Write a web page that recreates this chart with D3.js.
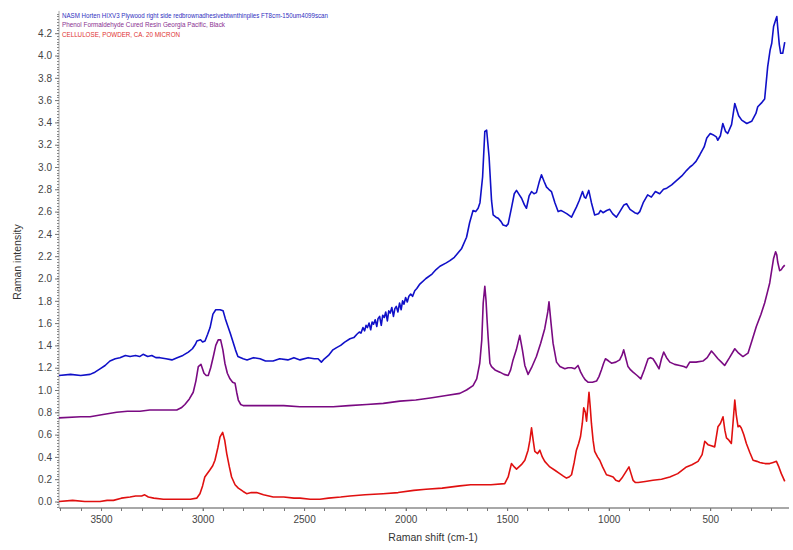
<!DOCTYPE html>
<html>
<head>
<meta charset="utf-8">
<script src="https://cdn.jsdelivr.net/npm/d3@7/dist/d3.min.js"></script>
<style>
  html, body { margin: 0; padding: 0; background: #fff; }
  svg { display: block; font-family: Arial, "Liberation Sans", sans-serif; }
</style>
</head>
<body>
<svg id="chart" width="793" height="550"></svg>
<script>
// ---- Data (Raman shift in cm-1, intensity) ----
const seriesNames = [
  "NASM Horten HIXV3 Plywood right side redbrownadhesivebtwnthinplies FT8cm-150um4099scan",
  "Phenol Formaldehyde Cured Resin Georgia Pacific, Black",
  "CELLULOSE, POWDER, CA. 20 MICRON"
];
const seriesColors = ["#1010c8", "#7a0a82", "#e01010"];
const legendColors = ["#3030c0", "#8a3090", "#e03030"];

const hortenSpectrum = [
  [3707,1.13],[3650,1.14],[3600,1.13],[3554,1.14],[3530,1.16],[3505,1.19],[3480,1.22],[3456,1.26],
  [3430,1.28],[3407,1.29],[3380,1.31],[3357,1.30],[3330,1.31],[3310,1.30],[3293,1.32],[3270,1.30],
  [3250,1.31],[3230,1.29],[3210,1.29],[3180,1.28],[3151,1.27],[3125,1.29],[3097,1.31],[3070,1.34],
  [3050,1.37],[3035,1.41],[3028,1.44],[3010,1.45],[3000,1.43],[2988,1.44],[2975,1.50],[2963,1.56],
  [2949,1.68],[2935,1.72],[2914,1.72],[2899,1.71],[2888,1.64],[2875,1.57],[2862,1.50],[2850,1.43],
  [2838,1.36],[2826,1.30],[2800,1.28],[2781,1.27],[2750,1.29],[2717,1.28],[2690,1.26],[2653,1.26],
  [2620,1.28],[2580,1.27],[2550,1.29],[2520,1.27],[2480,1.29],[2450,1.28],[2431,1.28],[2415,1.25],
  [2400,1.28],[2380,1.31],[2358,1.36],[2340,1.38],[2320,1.40],[2300,1.43],[2274,1.46],[2255,1.47],
  [2240,1.50],[2228,1.52],[2220,1.51],[2210,1.56],[2202,1.53],[2195,1.58],[2188,1.56],[2180,1.60],
  [2172,1.54],[2165,1.61],[2158,1.59],[2150,1.63],[2142,1.57],[2136,1.64],[2128,1.66],[2120,1.58],
  [2113,1.67],[2105,1.65],[2098,1.70],[2090,1.62],[2083,1.71],[2076,1.69],[2068,1.74],[2060,1.66],
  [2053,1.73],[2046,1.75],[2038,1.70],[2030,1.78],[2022,1.72],[2015,1.80],[2008,1.77],[2000,1.83],
  [1992,1.79],[1984,1.84],[1975,1.86],[1966,1.84],[1955,1.89],[1945,1.91],[1930,1.95],[1900,2.00],
  [1870,2.04],[1850,2.08],[1831,2.11],[1800,2.14],
  [1782,2.16],[1760,2.19],[1724,2.27],[1700,2.37],[1685,2.50],[1668,2.61],[1655,2.60],[1643,2.63],
  [1634,2.68],[1621,2.91],[1610,3.32],[1601,3.33],[1589,3.09],[1577,2.70],[1569,2.57],[1555,2.55],
  [1544,2.54],[1530,2.51],[1520,2.48],[1505,2.47],[1495,2.49],[1478,2.64],[1465,2.76],[1454,2.79],
  [1440,2.75],[1429,2.72],[1415,2.66],[1405,2.63],[1392,2.74],[1380,2.78],[1368,2.76],[1356,2.77],
  [1343,2.86],[1331,2.93],[1318,2.87],[1306,2.82],[1295,2.80],[1282,2.78],[1265,2.68],[1249,2.60],
  [1235,2.61],[1224,2.60],[1205,2.58],[1183,2.55],[1170,2.60],[1159,2.64],[1145,2.70],[1129,2.78],
  [1120,2.73],[1113,2.72],[1098,2.79],[1085,2.68],[1069,2.57],[1050,2.58],[1040,2.61],[1028,2.59],
  [1010,2.61],[995,2.62],[980,2.58],[962,2.55],[945,2.60],[925,2.66],[912,2.67],[895,2.62],
  [872,2.59],[858,2.58],[847,2.60],[830,2.68],[808,2.75],[790,2.73],[770,2.78],[749,2.76],
  [730,2.80],[714,2.81],[690,2.84],[665,2.88],[640,2.92],[616,2.97],[600,3.00],[586,3.02],
  [570,3.05],[551,3.11],[530,3.18],[517,3.26],[500,3.30],[487,3.29],[470,3.27],[463,3.24],
  [450,3.28],[438,3.39],[425,3.32],[414,3.30],[395,3.38],[379,3.57],[360,3.46],[345,3.42],
  [320,3.39],[296,3.41],[275,3.48],[266,3.54],[245,3.58],[232,3.61],[217,3.90],[205,4.05],
  [197,4.11],[188,4.26],[176,4.33],[172,4.35],[168,4.26],[160,4.10],[153,4.02],[143,4.02],[133,4.12]
];

const phenolSpectrum = [
  [3707,0.75],[3600,0.76],[3554,0.76],[3490,0.78],[3423,0.80],[3370,0.81],[3308,0.81],[3260,0.82],
  [3210,0.82],[3160,0.82],[3127,0.82],[3105,0.84],[3087,0.87],[3065,0.92],[3046,0.98],[3033,1.08],
  [3021,1.21],[3008,1.23],[2993,1.15],[2982,1.13],[2972,1.13],[2960,1.20],[2947,1.30],[2935,1.40],
  [2923,1.45],[2911,1.45],[2900,1.36],[2890,1.24],[2878,1.15],[2865,1.10],[2852,1.07],[2840,1.06],
  [2832,0.98],[2824,0.91],[2812,0.87],[2800,0.86],[2740,0.86],[2684,0.86],[2600,0.86],[2521,0.85],
  [2440,0.85],[2357,0.85],[2280,0.86],[2192,0.87],[2110,0.88],[2028,0.90],[1950,0.91],[1870,0.93],
  [1800,0.95],[1733,0.97],[1700,1.00],[1668,1.04],[1650,1.10],[1635,1.24],[1625,1.45],[1618,1.78],
  [1610,1.93],[1604,1.80],[1599,1.63],[1594,1.48],[1585,1.24],[1577,1.21],[1560,1.18],[1536,1.16],
  [1515,1.14],[1495,1.13],[1483,1.18],[1471,1.27],[1455,1.36],[1438,1.49],[1425,1.36],[1413,1.22],
  [1397,1.14],[1380,1.20],[1356,1.30],[1335,1.42],[1315,1.55],[1300,1.70],[1294,1.79],[1284,1.60],
  [1274,1.42],[1257,1.25],[1240,1.21],[1216,1.19],[1200,1.20],[1183,1.20],[1167,1.19],[1151,1.22],
  [1138,1.16],[1126,1.12],[1115,1.09],[1102,1.07],[1080,1.07],[1060,1.08],[1048,1.12],[1036,1.18],
  [1025,1.24],[1016,1.28],[1000,1.26],[986,1.24],[965,1.25],[946,1.27],[935,1.31],[926,1.36],
  [915,1.28],[905,1.21],[892,1.18],[880,1.16],[860,1.13],[842,1.10],[825,1.18],[806,1.28],
  [794,1.29],[782,1.28],[768,1.24],[752,1.19],[740,1.28],[729,1.34],[715,1.29],[699,1.25],
  [675,1.23],[650,1.22],[630,1.21],[617,1.20],[601,1.25],[570,1.25],[536,1.26],[515,1.29],
  [494,1.35],[480,1.32],[462,1.28],[445,1.25],[429,1.22],[405,1.29],[379,1.37],[360,1.33],
  [339,1.30],[314,1.33],[295,1.44],[273,1.57],[250,1.68],[232,1.78],[218,1.88],[207,1.96],
  [195,2.10],[188,2.18],[178,2.24],[172,2.21],[168,2.15],[158,2.07],[150,2.08],[143,2.10],[133,2.12]
];

const celluloseSpectrum = [
  [3707,0.00],[3640,0.01],[3580,0.00],[3505,0.00],[3470,0.01],[3439,0.01],[3400,0.03],[3357,0.04],
  [3330,0.05],[3300,0.05],[3285,0.06],[3267,0.04],[3240,0.03],[3193,0.02],[3150,0.02],[3095,0.02],
  [3060,0.02],[3029,0.03],[3013,0.07],[3000,0.14],[2989,0.22],[2965,0.28],[2950,0.32],[2939,0.37],
  [2925,0.48],[2914,0.58],[2901,0.62],[2891,0.55],[2881,0.43],[2868,0.31],[2857,0.22],[2840,0.15],
  [2824,0.12],[2800,0.09],[2783,0.07],[2760,0.08],[2734,0.08],[2700,0.06],[2652,0.04],[2600,0.04],
  [2550,0.03],[2520,0.03],[2470,0.02],[2422,0.02],[2380,0.03],[2320,0.04],[2274,0.05],[2200,0.06],
  [2111,0.07],[2037,0.08],[1960,0.10],[1900,0.11],[1820,0.12],[1733,0.14],[1680,0.15],[1635,0.15],
  [1580,0.15],[1512,0.16],[1495,0.22],[1479,0.34],[1465,0.31],[1454,0.29],[1430,0.33],[1413,0.37],
  [1397,0.46],[1388,0.55],[1380,0.66],[1372,0.55],[1364,0.45],[1350,0.43],[1339,0.46],[1327,0.40],
  [1315,0.36],[1300,0.33],[1290,0.31],[1265,0.28],[1241,0.25],[1225,0.23],[1208,0.21],[1195,0.22],
  [1183,0.24],[1170,0.35],[1159,0.46],[1148,0.52],[1139,0.58],[1130,0.70],[1123,0.84],[1115,0.80],
  [1109,0.72],[1103,0.85],[1097,0.98],[1091,0.85],[1085,0.70],[1077,0.55],[1069,0.45],[1055,0.40],
  [1044,0.37],[1030,0.31],[1011,0.24],[995,0.23],[978,0.22],[965,0.19],[949,0.18],[935,0.21],
  [921,0.25],[900,0.31],[890,0.25],[880,0.19],[868,0.17],[855,0.17],[820,0.18],[782,0.19],
  [740,0.20],[699,0.22],[660,0.25],[617,0.31],[590,0.33],[560,0.36],[540,0.42],[527,0.54],
  [511,0.51],[495,0.50],[478,0.49],[470,0.58],[462,0.67],[450,0.70],[437,0.76],[428,0.64],
  [420,0.57],[408,0.55],[396,0.52],[388,0.70],[379,0.91],[372,0.78],[363,0.67],[355,0.68],
  [347,0.66],[335,0.60],[322,0.52],[305,0.44],[289,0.37],[270,0.36],[256,0.35],[230,0.34],
  [207,0.34],[190,0.35],[174,0.36],[162,0.31],[150,0.25],[140,0.21],[133,0.18]
];

const spectra = [hortenSpectrum, phenolSpectrum, celluloseSpectrum];

const yTickValues = d3.range(0, 4.21, 0.2);
const xMajorTicks = [3500, 3000, 2500, 2000, 1500, 1000, 500];
const xMinorTicks = d3.range(200, 3701, 100);
const xDomain = [3707, 117];
const yDomain = [0, 4.2];

// ---- Layout ----
const svg = d3.select("#chart");
const x = d3.scaleLinear().domain(xDomain).range([59, 788]);
const y = d3.scaleLinear().domain(yDomain).range([501.5, 33.2]);
const axisColor = "#a8a8a8";
const textColor = "#444";

// Y axis line
const yTop = y(4.4), yBottom = 508;
svg.append("line")
  .attr("x1", 59).attr("x2", 59).attr("y1", yTop).attr("y2", yBottom)
  .attr("stroke", axisColor).attr("stroke-width", 1);
// Y minor ticks (dotted look)
const yMinor = d3.range(-0.05, 4.40, 0.025);
svg.append("g").selectAll("line").data(yMinor).join("line")
  .attr("x1", 57).attr("x2", 59)
  .attr("y1", d => Math.round(y(d)) + 0.5).attr("y2", d => Math.round(y(d)) + 0.5)
  .attr("stroke", "#888").attr("stroke-width", 1);
// Y axis major ticks + labels via d3 axis
const yAxis = d3.axisLeft(y).tickValues(yTickValues).tickFormat(d3.format(".1f")).tickSize(4).tickPadding(3);
const yg = svg.append("g").attr("transform", "translate(59,0)").call(yAxis);
yg.select(".domain").remove();
yg.selectAll(".tick line").attr("stroke", "#777");
yg.selectAll(".tick text").attr("fill", textColor).style("font-size", "10px")
  .style("font-family", "Arial, 'Liberation Sans', sans-serif");

// X axis
const xAxisY = 508;
svg.append("line")
  .attr("x1", 59).attr("x2", 789).attr("y1", xAxisY).attr("y2", xAxisY)
  .attr("stroke", axisColor).attr("stroke-width", 2);
svg.append("g").selectAll("line").data(xMinorTicks).join("line")
  .attr("x1", d => Math.round(x(d)) + 0.5).attr("x2", d => Math.round(x(d)) + 0.5)
  .attr("y1", xAxisY).attr("y2", xAxisY + 3)
  .attr("stroke", "#777").attr("stroke-width", 1);
const xAxis = d3.axisBottom(x).tickValues(xMajorTicks).tickFormat(d3.format("d")).tickSize(3).tickPadding(5);
const xg = svg.append("g").attr("transform", `translate(0,${xAxisY})`).call(xAxis);
xg.select(".domain").remove();
xg.selectAll(".tick line").attr("stroke", "#777");
xg.selectAll(".tick text").attr("fill", textColor).style("font-size", "10px")
  .style("font-family", "Arial, 'Liberation Sans', sans-serif");

// Axis titles
svg.append("text")
  .attr("x", 433).attr("y", 541).attr("text-anchor", "middle")
  .attr("fill", "#333").style("font-size", "10.5px")
  .text("Raman shift (cm-1)");
svg.append("text")
  .attr("transform", "translate(21,262) rotate(-90)")
  .attr("text-anchor", "middle")
  .attr("fill", "#333").style("font-size", "10.5px")
  .text("Raman intensity");

// Spectra
const line = d3.line().x(d => x(d[0])).y(d => y(d[1]));
const plot = svg.append("g");
spectra.forEach((s, i) => {
  plot.append("path")
    .datum(s)
    .attr("fill", "none")
    .attr("stroke", seriesColors[i])
    .attr("stroke-width", 1.6)
    .attr("stroke-linejoin", "round")
    .attr("d", line);
});

// Legend
const legendWidths = [266, 163, 118];
const legend = svg.append("g");
seriesNames.forEach((name, i) => {
  legend.append("text")
    .attr("x", 62).attr("y", 18 + i * 9.3)
    .attr("fill", legendColors[i])
    .style("font-size", "6.6px")
    .attr("textLength", legendWidths[i])
    .attr("lengthAdjust", "spacingAndGlyphs")
    .text(name);
});
</script>
</body>
</html>
